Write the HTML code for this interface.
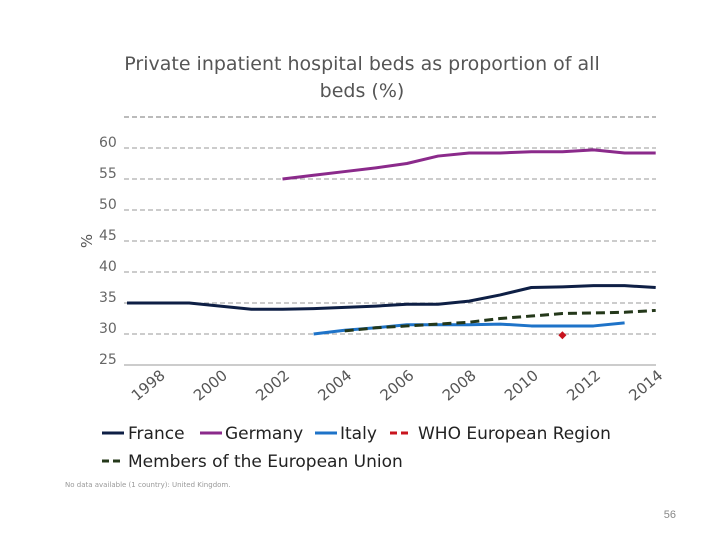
<!DOCTYPE html>
<html><head><meta charset="utf-8"><style>
body{margin:0;background:#fff;width:720px;height:540px;overflow:hidden;font-family:"DejaVu Sans","Liberation Sans",sans-serif}
</style></head><body>
<svg width="720" height="540">
<text x="362" y="70" text-anchor="middle" font-size="19" fill="#555">Private inpatient hospital beds as proportion of all</text>
<text x="362" y="97" text-anchor="middle" font-size="19" fill="#555">beds (%)</text>
<line x1="124" x2="656" y1="117" y2="117" stroke="#777" stroke-dasharray="5,3"/>
<g id="grid"></g><g id="xticks"></g><g id="series"></g>
<text x="92" y="241" font-size="15" fill="#555" transform="rotate(-90 92 241)" text-anchor="middle">%</text>
<g font-size="17" fill="#222">
<line x1="102" x2="124" y1="433" y2="433" stroke="#0e1f45" stroke-width="3"/><text x="128" y="439">France</text>
<line x1="200" x2="222" y1="433" y2="433" stroke="#8b2a8b" stroke-width="3"/><text x="225" y="439">Germany</text>
<line x1="315" x2="337" y1="433" y2="433" stroke="#1e73c8" stroke-width="3"/><text x="340" y="439">Italy</text>
<line x1="390" x2="412" y1="433" y2="433" stroke="#c8141e" stroke-width="3" stroke-dasharray="7,4"/><text x="418" y="439">WHO European Region</text>
<line x1="102" x2="124" y1="461" y2="461" stroke="#24381a" stroke-width="3" stroke-dasharray="7,4"/><text x="128" y="467">Members of the European Union</text>
</g>
<text x="65" y="487" font-size="7" fill="#999">No data available (1 country): United Kingdom.</text>
<text x="676" y="518" font-size="11" fill="#888" text-anchor="end" font-family="Liberation Sans">56</text>
</svg>
<script>
const yTicks=[25,30,35,40,45,50,55,60];
const xLabels=[1998,2000,2002,2004,2006,2008,2010,2012,2014];
const franceYears=[1997,1998,1999,2000,2001,2002,2003,2004,2005,2006,2007,2008,2009,2010,2011,2012,2013,2014];
const franceVals=[35,35,35,34.5,34,34,34.1,34.3,34.5,34.8,34.8,35.3,36.3,37.5,37.6,37.8,37.8,37.5];
const germanyYears=[2002,2003,2004,2005,2006,2007,2008,2009,2010,2011,2012,2013,2014];
const germanyVals=[55,55.6,56.2,56.8,57.5,58.7,59.2,59.2,59.4,59.4,59.7,59.2,59.2];
const italyYears=[2003,2004,2005,2006,2007,2008,2009,2010,2011,2012,2013];
const italyVals=[30,30.6,31,31.5,31.5,31.5,31.6,31.3,31.3,31.3,31.8];
const euYears=[2004,2005,2006,2007,2008,2009,2010,2011,2012,2013,2014];
const euVals=[30.5,31,31.3,31.6,31.9,32.5,32.9,33.3,33.4,33.5,33.8];
const whoYears=[2011];
const whoVals=[29.8];
const NS="http://www.w3.org/2000/svg";
const x=y=>127+(y-1997)*31.1;
const yv=v=>334-(v-30)*6.2;
function mk(t,a,p){const e=document.createElementNS(NS,t);for(const k in a)e.setAttribute(k,a[k]);p.appendChild(e);return e;}
const grid=document.getElementById('grid');
yTicks.forEach(v=>{
 const l=mk('line',{x1:124,x2:656,y1:yv(v),y2:yv(v),stroke:v==25?'#999':'#999','stroke-dasharray':v==25?'':'5,3'},grid);
 
 
 const t=mk('text',{x:99,y:yv(v)-1,'font-size':14,fill:'#666'},grid);t.textContent=v;
 
 
});
const xt=document.getElementById('xticks');
xLabels.forEach(yr=>{
 const px=x(yr)+8;
 const t=mk('text',{x:px,y:377,'font-size':15,fill:'#555','text-anchor':'end',transform:`rotate(-40 ${px} 377)`},xt);t.textContent=yr;
 
 
});
const sg=document.getElementById('series');
function line(ys,vs,col,dash,name){
 const p=mk('polyline',{points:ys.map((y,i)=>x(y)+','+yv(vs[i])).join(' '),fill:'none',stroke:col,'stroke-width':3,'stroke-dasharray':dash,'stroke-linejoin':'round'},sg);
 
 
}
line(franceYears,franceVals,'#0e1f45','','france-line');
line(germanyYears,germanyVals,'#8b2a8b','','germany-line');
line(italyYears,italyVals,'#1e73c8','','italy-line');
line(euYears,euVals,'#24381a','9,5','eu-line');
whoYears.forEach((yr,i)=>{
 const cx=x(yr),cy=yv(whoVals[i]);
 const d=mk('polygon',{points:`${cx},${cy-4} ${cx+4},${cy} ${cx},${cy+4} ${cx-4},${cy}`,fill:'#c8141e'},sg);
 
 
});
</script>
</body></html>
